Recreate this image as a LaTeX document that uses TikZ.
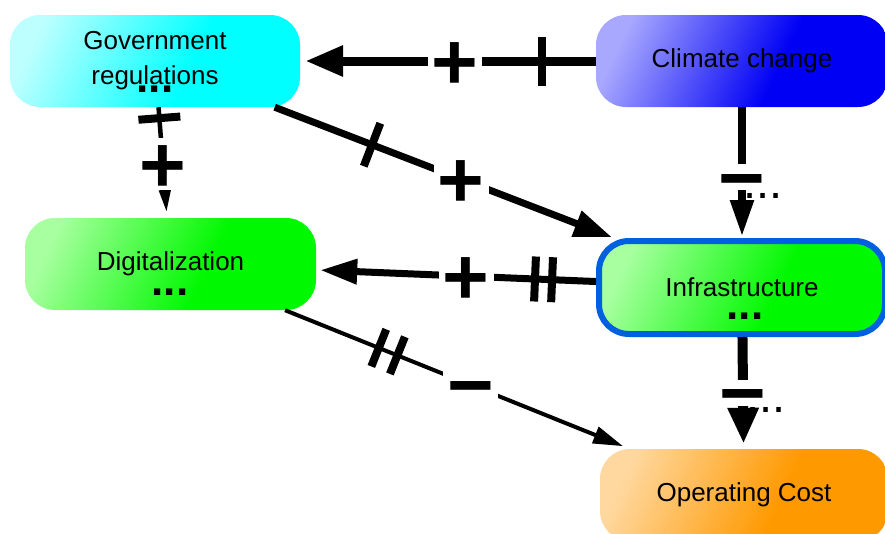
\documentclass[tikz,border=0pt]{standalone}
\usepackage{fontspec}
\setmainfont{Liberation Sans}
\usetikzlibrary{arrows.meta}
\definecolor{cyanL}{HTML}{BDFFFF}
\definecolor{cyanF}{HTML}{00FFFF}
\definecolor{blueL}{HTML}{A8A8FF}
\definecolor{blueF}{HTML}{0000F5}
\definecolor{greenL}{HTML}{A8FFA0}
\definecolor{greenF}{HTML}{00F800}
\definecolor{orangeL}{HTML}{FFD8A0}
\definecolor{orangeF}{HTML}{FF9900}
\definecolor{infraBorder}{HTML}{0060E0}
\colorlet{nlight}{white}
\colorlet{nfull}{white}
\pgfdeclarehorizontalshading[nlight,nfull]{nodegrad}{100bp}{color(0bp)=(nlight); color(24bp)=(nlight); color(58bp)=(nfull); color(100bp)=(nfull)}
\begin{document}
\begin{tikzpicture}[x=1pt,y=-1pt,
  nodebox/.style 2 args={rectangle, rounded corners=30pt, inner sep=0pt, shade, shading=nodegrad, shading angle=-25, /utils/exec={\colorlet{nlight}{#1}\colorlet{nfull}{#2}}, font=\fontsize{26}{35}\selectfont, align=center, text=black},
  nodedots/.style={inner sep=0pt, font=\fontsize{44}{44}\selectfont\bfseries},
  edgedots/.style={inner sep=0pt, font=\fontsize{47}{47}\selectfont},
  polsign/.style={fill=white, inner xsep=4pt, inner ysep=0pt, text height=#1, text depth=#1, font=\fontsize{80}{80}\selectfont\bfseries},
  tickmark/.style={sloped, fill=black, inner sep=0pt, minimum width=8pt, minimum height=#1},
  link/.style={draw=black, line width=#1},
]
\useasboundingbox (0,0) rectangle (885,533);
\node[nodebox={cyanL}{cyanF}, minimum width=290pt, minimum height=92pt] (gov) at (155,61) {Government\\regulations};
\node[nodebox={blueL}{blueF}, minimum width=292pt, minimum height=92pt] (cc) at (742,61) {Climate change};
\node[nodebox={greenL}{greenF}, minimum width=291pt, minimum height=92pt] (dig) at (170.5,264) {Digitalization};
\node[nodebox={greenL}{greenF}, draw=infraBorder, line width=6pt, minimum width=286pt, minimum height=93pt] (inf) at (742,287.5) {Infrastructure};
\node[nodebox={orangeL}{orangeF}, minimum width=288pt, minimum height=92pt] (op) at (744,495) {Operating Cost};

\node[nodedots] (govdots) at (155,89.5) {...};
\node[nodedots] (digdots) at (170,292) {...};
\node[nodedots] (infdots) at (745,316.5) {...};

\draw[link=9pt, -{Triangle[length=38pt,width=29pt]}, shorten >=5pt] (cc) -- node[tickmark=49pt, pos=0.182] (t1) {} node[polsign=20pt, pos=0.476] (s1) {\raisebox{-0.35em}{+}} (gov);
\draw[link=7pt, -{Triangle[length=38pt,width=26pt]}, shorten >=2pt] (gov) -- node[tickmark=46pt, pos=0.287] (t2) {} node[polsign=22pt, pos=0.55] (s2) {\raisebox{-0.35em}{+}} (inf);
\draw[link=7pt, -{Triangle[length=37pt,width=24pt]}, shorten >=4pt] (inf) -- node[tickmark=45pt, pos=0.157] (t3a) {} node[tickmark=45pt, pos=0.218] (t3b) {} node[polsign=22pt, pos=0.464] (s3) {\raisebox{-0.35em}{+}} (dig);
\draw[link=8pt, -{Triangle[length=37pt,width=22pt]}, shorten >=1pt] (cc) -- node[polsign=13pt, pos=0.535] (s4) {\raisebox{-0.35em}{−}} (inf);
\draw[link=10pt, -{Triangle[length=36pt,width=29pt]}, shorten >=5pt] (inf) -- node[polsign=13pt, pos=0.5] (s5) {\raisebox{-0.35em}{−}} (op);
\draw[link=4.5pt, -{Triangle[length=23pt,width=11pt]}, shorten >=5pt] (gov) -- node[tickmark=42pt, pos=0.099] (t6) {} node[polsign=26pt, pos=0.514] (s6) {\raisebox{-0.35em}{+}} (dig);
\draw[link=4pt, -{Triangle[length=30pt,width=17pt]}, shorten >=7pt] (dig) -- node[tickmark=40pt, pos=0.272] (t7a) {} node[tickmark=40pt, pos=0.326] (t7b) {} node[polsign=22pt, pos=0.538] (s7) {\raisebox{-0.35em}{−}} (op);

\node[edgedots] (ccinfdots) at (763,196) {...};
\node[edgedots] (infopdots) at (766,410) {...};
\end{tikzpicture}
\end{document}
